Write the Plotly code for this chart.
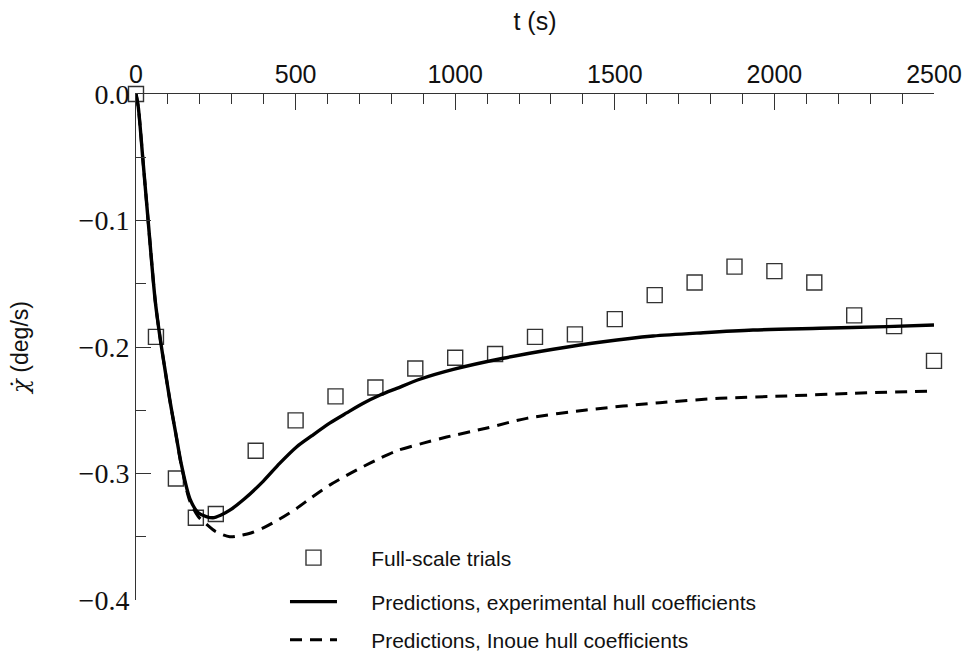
import plotly.graph_objects as go

# Full-scale trial data
trial_t = [0, 62.5, 125, 187.5, 250, 375, 500, 625, 750, 875, 1000, 1125, 1250,
           1375, 1500, 1625, 1750, 1875, 2000, 2125, 2250, 2375, 2500]
trial_rate = [0.0, -0.192, -0.304, -0.335, -0.332, -0.282, -0.258, -0.239, -0.232,
              -0.217, -0.2085, -0.2055, -0.192, -0.190, -0.178, -0.159, -0.149,
              -0.1365, -0.140, -0.149, -0.175, -0.1835, -0.211]

# Predictions, experimental hull coefficients
exp_t = [0, 7, 21, 38, 60, 75, 90, 106, 125, 143, 169, 195, 220, 241, 265, 294, 340,
         399, 450, 503, 550, 608, 660, 712, 765, 817, 889, 994, 1150, 1307, 1464,
         1620, 1777, 1933, 2142, 2351, 2500]
exp_rate = [0, -0.010, -0.050, -0.100, -0.163, -0.192, -0.2165, -0.242, -0.269, -0.294,
            -0.320, -0.331, -0.334, -0.335, -0.333, -0.329, -0.320, -0.306, -0.292,
            -0.279, -0.2703, -0.260, -0.2521, -0.2445, -0.238, -0.2327, -0.2255,
            -0.2177, -0.2089, -0.2018, -0.1958, -0.1913, -0.1887, -0.1866, -0.1852,
            -0.1839, -0.1826]

# Predictions, Inoue hull coefficients
ino_t = [0, 7, 21, 38, 60, 75, 90, 106, 125, 143, 169, 195, 220, 250, 294, 326, 360,
         399, 450, 503, 550, 608, 660, 712, 764, 817, 900, 973, 1100, 1224, 1411, 1641,
         1829, 2038, 2246, 2500]
ino_rate = [0, -0.010, -0.050, -0.100, -0.163, -0.192, -0.2165, -0.242, -0.269, -0.295,
            -0.322, -0.334, -0.340, -0.346, -0.350, -0.349, -0.347, -0.343, -0.336,
            -0.3276, -0.319, -0.309, -0.3015, -0.2945, -0.2880, -0.2820, -0.2760,
            -0.2712, -0.2640, -0.2564, -0.2498, -0.2440, -0.2406, -0.2387, -0.2366,
            -0.2348]

SANS = "Liberation Sans, Arial, sans-serif"
SERIF = "Liberation Serif, Times New Roman, serif"
AX = "#333333"
PAD = "&nbsp;" * 5

fig = go.Figure()
fig.add_trace(go.Scatter(
    x=trial_t, y=trial_rate, mode="markers", name=PAD + "Full-scale trials",
    marker=dict(symbol="square-open", size=15, color="#333333", line=dict(width=1.4)),
    cliponaxis=False, legend="legend"))
fig.add_trace(go.Scatter(
    x=exp_t, y=exp_rate, mode="lines",
    name=PAD + "Predictions, experimental hull coefficients",
    line=dict(color="black", width=3.4, shape="spline", smoothing=0.8),
    legend="legend2"))
fig.add_trace(go.Scatter(
    x=ino_t, y=ino_rate, mode="lines",
    name=PAD + "Predictions, Inoue hull coefficients",
    line=dict(color="black", width=3, dash="12px,8px", shape="spline", smoothing=0.8),
    legend="legend3"))

def leg(y):
    return dict(x=0.1867, y=y, xanchor="left", yanchor="top",
                font=dict(family=SANS, size=21, color="#111111"),
                bgcolor="rgba(0,0,0,0)", itemwidth=47)

fig.update_layout(
    width=969, height=661,
    margin=dict(l=136, r=35, t=94, b=61, autoexpand=False),
    paper_bgcolor="white", plot_bgcolor="white",
    showlegend=True,
    legend=leg(0.1235), legend2=leg(0.0366), legend3=leg(-0.0385),
    xaxis=dict(
        side="top", range=[0, 2500], dtick=500, tick0=0, automargin=False,
        showline=True, linecolor=AX, linewidth=1,
        ticks="inside", ticklen=16, tickwidth=1, tickcolor=AX,
        minor=dict(dtick=100, ticks="inside", ticklen=10, tickwidth=1, tickcolor=AX),
        showgrid=False, zeroline=False,
        tickfont=dict(family=SANS, size=25, color="#111111"),
        title=dict(text="t (s)", font=dict(family=SANS, size=25, color="#111111"), standoff=22),
    ),
    yaxis=dict(
        range=[-0.4, 0.0], dtick=0.1, tick0=0, tickformat=".1f", automargin=False,
        showline=True, linecolor=AX, linewidth=1,
        ticks="inside", ticklen=15, tickwidth=1, tickcolor=AX,
        minor=dict(dtick=0.05, ticks="inside", ticklen=10, tickwidth=1, tickcolor=AX),
        showgrid=False, zeroline=False,
        tickfont=dict(family=SERIF, size=28, color="#111111"),
        title=dict(text="<span style=\"font-family:DejaVu Serif\"><i>χ̇</i></span>&nbsp;(deg/s)",
                   font=dict(family=SANS, size=23, color="#111111"), standoff=43),
    ),
)

fig.write_html("out.html")
